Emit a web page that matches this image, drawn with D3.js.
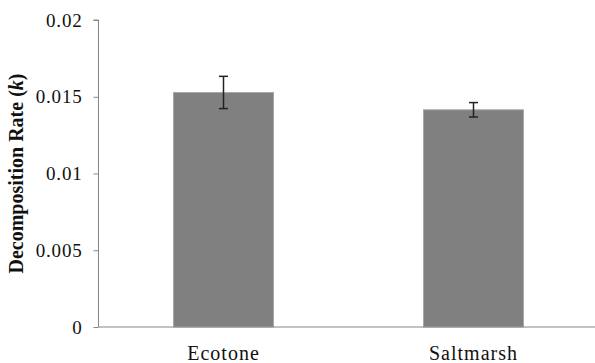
<!DOCTYPE html>
<html><head><meta charset="utf-8">
<script src="https://cdn.jsdelivr.net/npm/d3@7"></script>
<style>body{margin:0;background:#fff}svg{display:block}
text{font-family:"Liberation Serif","Times New Roman",serif !important}</style>
</head><body><svg id="c" width="595" height="363"></svg>
<script>
const categories = ["Ecotone", "Saltmarsh"];
const values = [0.01528, 0.01415];
const errors = [0.00105, 0.00047];
const yTicks = [0, 0.005, 0.01, 0.015, 0.02];
const yTickLabels = ["0", "0.005", "0.01", "0.015", "0.02"];

const svg = d3.select("#c");
const x0 = 98.5, x1 = 598.5, yTop = 20, yBot = 327;
const x = d3.scaleBand().domain(categories).range([x0, x1]).paddingInner(0.6).paddingOuter(0.3);
const y = d3.scaleLinear().domain([0, 0.02]).range([yBot, yTop]);

// bars
svg.selectAll("rect.bar").data(categories).enter().append("rect")
  .attr("x", d => x(d)).attr("width", x.bandwidth())
  .attr("y", (d, i) => y(values[i])).attr("height", (d, i) => yBot - y(values[i]))
  .attr("fill", "#808080").attr("stroke", "#a8a8a8").attr("stroke-width", 1);

// y axis
const yAxis = d3.axisLeft(y).tickValues(yTicks).tickSize(5).tickPadding(11)
  .tickFormat((d, i) => yTickLabels[i]);
const gy = svg.append("g").attr("transform", `translate(${x0},0)`).call(yAxis);
gy.select(".domain").attr("stroke", "#868686").attr("d", `M-5,${yTop}H0V${yBot}`);
gy.selectAll(".tick line").attr("stroke", "#868686");
gy.selectAll(".tick text").style("font-size", "19px")
  .attr("fill", "#111").attr("letter-spacing", 0.8);

// x axis
const xAxis = d3.axisBottom(x).tickSize(0).tickPadding(19);
const gx = svg.append("g").attr("transform", `translate(0,${yBot})`).call(xAxis);
gx.select(".domain").attr("stroke", "#868686").attr("d", `M${x0},0H595`);
gx.selectAll(".tick text").style("font-size", "20px")
  .attr("fill", "#111").attr("letter-spacing", 1);

// error bars
const eb = svg.append("g").attr("stroke", "#222").attr("stroke-width", 1.5);
categories.forEach((c, i) => {
  const cx = x(c) + x.bandwidth() / 2;
  const hi = y(values[i] + errors[i]), lo = y(values[i] - errors[i]);
  eb.append("line").attr("x1", cx).attr("x2", cx).attr("y1", hi).attr("y2", lo);
  eb.append("line").attr("x1", cx - 4.5).attr("x2", cx + 4.5).attr("y1", hi).attr("y2", hi);
  eb.append("line").attr("x1", cx - 4.5).attr("x2", cx + 4.5).attr("y1", lo).attr("y2", lo);
});

// y title
const t = svg.append("text").attr("transform", `translate(23,${(yTop + yBot) / 2}) rotate(-90)`)
  .attr("text-anchor", "middle").style("font-size", "20px")
  .attr("font-weight", "bold").attr("fill", "#111");
t.append("tspan").text("Decomposition Rate (");
t.append("tspan").attr("font-style", "italic").text("k");
t.append("tspan").text(")");
</script></body></html>
